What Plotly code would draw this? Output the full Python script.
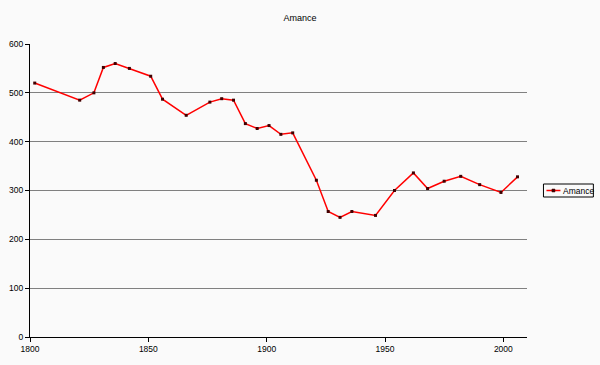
import plotly.graph_objects as go

years = [1802, 1821, 1827, 1831, 1836, 1842, 1851, 1856, 1866, 1876, 1881, 1886,
         1891, 1896, 1901, 1906, 1911, 1921, 1926, 1931, 1936, 1946, 1954, 1962,
         1968, 1975, 1982, 1990, 1999, 2006]
population = [520, 485, 500, 552, 560, 550, 534, 487, 454, 481, 488, 485,
              437, 427, 433, 415, 418, 321, 257, 245, 257, 249, 300, 336,
              304, 319, 329, 312, 296, 328]
series_name = "Amance"
x_ticks = [1800, 1850, 1900, 1950, 2000]
y_ticks = [0, 100, 200, 300, 400, 500, 600]

W, H = 600, 365
ML, MR, MT, MB = 29.5, 72.5, 44, 28
PW = W - ML - MR
PH = H - MT - MB

def px_x(p):
    return (p - ML) / PW

def px_y(p):
    return (H - MB - p) / PH

LINE_COLOR = "#FF0000"
MARKER_COLOR = "#400000"

fig = go.Figure()
fig.add_trace(go.Scatter(
    x=years, y=population, name=series_name, mode="lines+markers",
    line=dict(color=LINE_COLOR, width=1.5),
    marker=dict(symbol="square", size=3, color=MARKER_COLOR),
    showlegend=False,
))

font_family = "Liberation Sans, Arial, sans-serif"

# compact Excel-style legend box
leg_x0, leg_x1, leg_y0, leg_y1 = 544, 594, 184, 197
fig.add_shape(type="rect", xref="paper", yref="paper",
              x0=px_x(leg_x0), x1=px_x(leg_x1), y0=px_y(leg_y1), y1=px_y(leg_y0),
              line=dict(color="#000000", width=1), fillcolor="#FAFAFA", layer="above")
fig.add_shape(type="line", xref="paper", yref="paper",
              x0=px_x(547), x1=px_x(561), y0=px_y(190.5), y1=px_y(190.5),
              line=dict(color=LINE_COLOR, width=1.5), layer="above")
fig.add_shape(type="rect", xref="paper", yref="paper",
              x0=px_x(552.5), x1=px_x(555.5), y0=px_y(192), y1=px_y(189),
              line=dict(color=MARKER_COLOR, width=0.5), fillcolor=MARKER_COLOR, layer="above")
fig.add_annotation(text=series_name, xref="paper", yref="paper",
                   x=px_x(561.5), y=px_y(190.5), xanchor="left", yanchor="middle",
                   showarrow=False, font=dict(family=font_family, size=8.5, color="#000000"))

fig.update_layout(
    width=W, height=H,
    paper_bgcolor="#FAFAFA", plot_bgcolor="#FAFAFA",
    margin=dict(l=ML, r=MR, t=MT, b=MB, pad=0, autoexpand=False),
    title=dict(text="Amance", x=0.5, xanchor="center", y=1 - 18 / H, yanchor="middle",
               font=dict(family=font_family, size=9, color="#000000")),
    font=dict(family=font_family, size=9, color="#000000"),
    showlegend=False,
)
fig.update_xaxes(
    range=[1800, 2010], tickvals=x_ticks, ticktext=[str(v) for v in x_ticks],
    showgrid=False, zeroline=False, showline=True, linecolor="#000000", linewidth=1,
    ticks="outside", ticklen=4, tickcolor="#000000",
    tickfont=dict(family=font_family, size=8.5, color="#000000"),
)
fig.update_yaxes(
    range=[0, 600], tickvals=y_ticks, ticktext=[str(v) for v in y_ticks],
    showgrid=True, gridcolor="#808080", gridwidth=1,
    zeroline=False, showline=True, linecolor="#000000", linewidth=1,
    ticks="outside", ticklen=4, tickcolor="#000000",
    tickfont=dict(family=font_family, size=8.5, color="#000000"),
)

fig.write_html("out.html")
